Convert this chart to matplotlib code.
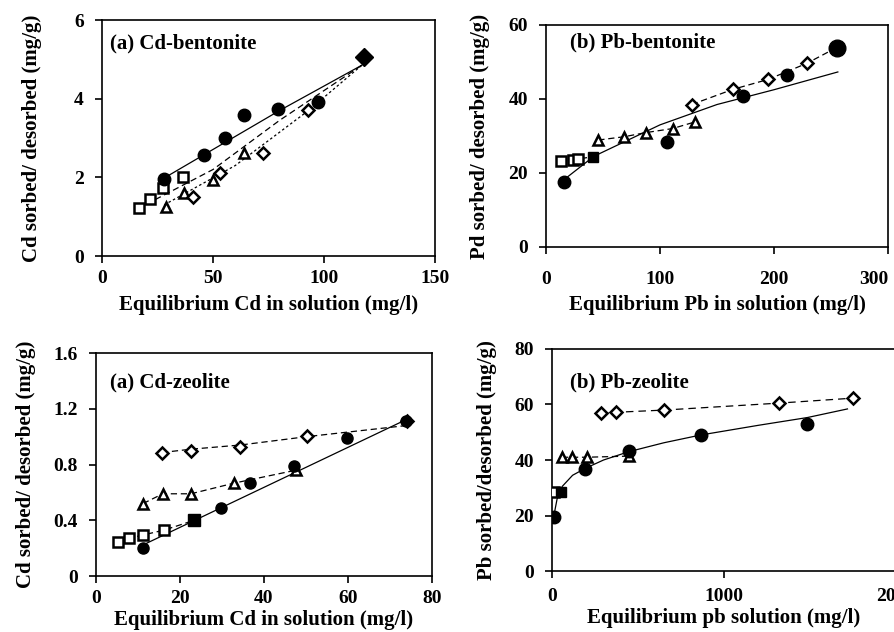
import matplotlib
matplotlib.use("Agg")
import matplotlib.pyplot as plt

plt.rcParams['font.family'] = ['Liberation Serif', 'DejaVu Serif']
plt.rcParams['font.weight'] = 'bold'

# ---- (a) Cd-bentonite ----
cdb_circ_x = [27.7, 46, 55.5, 63.8, 79.2, 97.5]
cdb_circ_y = [1.97, 2.57, 2.99, 3.58, 3.75, 3.92]
cdb_sq_x = [16.5, 21.5, 27.5, 36.5]
cdb_sq_y = [1.21, 1.44, 1.72, 2.02]
cdb_tri_x = [28.8, 37, 50.2, 63.8]
cdb_tri_y = [1.25, 1.59, 1.93, 2.61]
cdb_dia_x = [41.2, 53.2, 72.3, 93]
cdb_dia_y = [1.51, 2.10, 2.61, 3.71]
cdb_last_x = [117.8]
cdb_last_y = [5.07]
cdb_fit_x = [27, 80, 117]
cdb_fit_y = [1.95, 3.7, 4.85]
cdb_dash_x = [16, 50, 80, 117]
cdb_dash_y = [1.2, 2.2, 3.45, 4.85]
cdb_dot_x = [28, 60, 93, 117]
cdb_dot_y = [1.3, 2.3, 3.7, 4.85]

# ---- (b) Pb-bentonite ----
pbb_circ_x = [15.8, 105.8, 173, 211]
pbb_circ_y = [17.6, 28.4, 40.8, 46.5]
pbb_big_x = [255.6]
pbb_big_y = [53.9]
pbb_sq_x = [13.2, 23.4, 28.4]
pbb_sq_y = [23.2, 23.6, 23.8]
pbb_fsq_x = [41.5]
pbb_fsq_y = [24.4]
pbb_tri_x = [45.9, 68.7, 87.4, 111, 130.7]
pbb_tri_y = [28.9, 29.8, 30.9, 32.0, 33.8]
pbb_dia_x = [127.8, 164, 195, 228.6]
pbb_dia_y = [38.5, 42.6, 45.3, 49.6]
pbb_fit_x = [15, 42, 100, 150, 200, 256]
pbb_fit_y = [18, 24.5, 33, 38.5, 42.5, 47.3]
pbb_dia_line_x = [127.8, 164, 195, 228.6, 255.6]
pbb_dia_line_y = [38.5, 42.6, 45.3, 49.6, 54]

# ---- (a) Cd-zeolite ----
cdz_circ_x = [11.2, 29.8, 36.7, 47.2, 59.8, 73.7]
cdz_circ_y = [0.204, 0.49, 0.666, 0.79, 0.99, 1.11]
cdz_sq_x = [5.2, 7.8, 11.3, 16.3]
cdz_sq_y = [0.247, 0.27, 0.295, 0.33]
cdz_fsq_x = [23.4]
cdz_fsq_y = [0.40]
cdz_tri_x = [11.2, 15.9, 22.6, 32.8, 47.7]
cdz_tri_y = [0.52, 0.59, 0.59, 0.666, 0.76]
cdz_dia_x = [15.7, 22.6, 34.4, 50.2, 74]
cdz_dia_y = [0.886, 0.90, 0.925, 1.006, 1.11]
cdz_dia_line_y = [0.886, 0.91, 0.94, 1.0, 1.08]
cdz_fit_x = [11, 73.7]
cdz_fit_y = [0.22, 1.12]

# ---- (b) Pb-zeolite ----
pbz_circ_x = [9.7, 194, 447, 864, 1485]
pbz_circ_y = [19.5, 36.7, 43.4, 49, 53]
pbz_sq_x = [10]
pbz_sq_y = [28.6]
pbz_fsq_x = [54]
pbz_fsq_y = [28.6]
pbz_tri_x = [58, 117, 204, 447]
pbz_tri_y = [41, 41, 41, 41.4]
pbz_dia_x = [285, 375, 654, 1320, 1753]
pbz_dia_y = [56.9, 57.2, 58, 60.5, 62.3]
pbz_fit_x = [9.7, 30, 60, 120, 194, 300, 447, 650, 864, 1200, 1485, 1718]
pbz_fit_y = [19.5, 26, 30.5, 34.5, 37, 40, 43, 46.2, 49, 52.5, 55.3, 58.4]

fig = plt.figure(figsize=(8.94, 6.32), dpi=100)

ms = 7.5
mew = 1.8
lab = 15
tk = 14


def style(ax, xlim, ylim, xt, yt, xl, yl, title, tpos, xpad, xlpad, ylx):
    ax.set_xlim(*xlim)
    ax.set_ylim(*ylim)
    ax.set_xticks(xt)
    ax.set_yticks(yt)
    ax.tick_params(direction='out', length=5, width=1.2, labelsize=tk, top=False, right=False)
    ax.tick_params(axis='x', pad=xpad)
    ax.tick_params(axis='y', pad=8)
    for s in ax.spines.values():
        s.set_linewidth(1.2)
    ax.set_xlabel(xl, fontsize=lab, fontweight='bold', labelpad=xlpad)
    ax.set_ylabel(yl, fontsize=lab, fontweight='bold')
    ax.yaxis.set_label_coords(ylx, 0.5)
    ax.text(tpos[0], tpos[1], title, transform=ax.transAxes, fontsize=lab, fontweight='bold', va='center')
    for t in ax.get_xticklabels() + ax.get_yticklabels():
        t.set_fontweight('bold')


def open_m(ax, x, y, m, size=ms):
    ax.plot(x, y, linestyle='none', marker=m, ms=size, mfc='white', mec='black', mew=mew, zorder=3)


def fill_m(ax, x, y, m, size=ms):
    ax.plot(x, y, linestyle='none', marker=m, ms=size, mfc='black', mec='black', zorder=4)


# panel 1
ax1 = fig.add_axes([0.1141, 0.5949, 0.3725, 0.3734])
ax1.plot(cdb_fit_x, cdb_fit_y, color='black', lw=0.9)
ax1.plot(cdb_dash_x, cdb_dash_y, color='black', lw=0.9, ls=(0, (5, 3)))
ax1.plot(cdb_dot_x, cdb_dot_y, color='black', lw=0.9, ls=(0, (2, 2)))
open_m(ax1, cdb_sq_x, cdb_sq_y, 's')
open_m(ax1, cdb_tri_x, cdb_tri_y, '^')
open_m(ax1, cdb_dia_x, cdb_dia_y, 'D', 6.5)
fill_m(ax1, cdb_circ_x, cdb_circ_y, 'o', 9)
fill_m(ax1, cdb_last_x, cdb_last_y, 'D', 9)
style(ax1, (0, 150), (0, 6), [0, 50, 100, 150], [0, 2, 4, 6],
      'Equilibrium Cd in solution (mg/l)', 'Cd sorbed/ desorbed (mg/g)', '(a) Cd-bentonite',
      (0.024, 0.90), 5, 6, -0.18)

# panel 2
ax2 = fig.add_axes([0.6107, 0.6092, 0.3826, 0.3513])
ax2.plot(pbb_fit_x, pbb_fit_y, color='black', lw=0.9)
ax2.plot(pbb_sq_x + pbb_fsq_x, pbb_sq_y + pbb_fsq_y, color='black', lw=0.9, ls=(0, (5, 3)))
ax2.plot(pbb_tri_x, pbb_tri_y, color='black', lw=0.9, ls=(0, (5, 3)))
ax2.plot(pbb_dia_line_x, pbb_dia_line_y, color='black', lw=0.9, ls=(0, (5, 3)))
open_m(ax2, pbb_sq_x, pbb_sq_y, 's')
fill_m(ax2, pbb_fsq_x, pbb_fsq_y, 's')
open_m(ax2, pbb_tri_x, pbb_tri_y, '^')
open_m(ax2, pbb_dia_x, pbb_dia_y, 'D', 6.5)
fill_m(ax2, pbb_circ_x, pbb_circ_y, 'o', 9)
fill_m(ax2, pbb_big_x, pbb_big_y, 'o', 12)
style(ax2, (0, 300), (0, 60), [0, 100, 200, 300], [0, 20, 40, 60],
      'Equilibrium Pb in solution (mg/l)', 'Pd sorbed/ desorbed (mg/g)', '(b) Pb-bentonite',
      (0.07, 0.92), 12, 5, -0.164)
ax2.get_xticklabels()[-1].set_horizontalalignment('right')

# panel 3
ax3 = fig.add_axes([0.1074, 0.0886, 0.3758, 0.3528])
ax3.plot(cdz_fit_x, cdz_fit_y, color='black', lw=0.9)
ax3.plot(cdz_sq_x + cdz_fsq_x, cdz_sq_y + cdz_fsq_y, color='black', lw=0.9, ls=(0, (5, 3)))
ax3.plot(cdz_tri_x, cdz_tri_y, color='black', lw=0.9, ls=(0, (5, 3)))
ax3.plot(cdz_dia_x, cdz_dia_line_y, color='black', lw=0.9, ls=(0, (5, 3)))
open_m(ax3, cdz_sq_x, cdz_sq_y, 's')
fill_m(ax3, cdz_fsq_x, cdz_fsq_y, 's', 8)
open_m(ax3, cdz_tri_x, cdz_tri_y, '^')
open_m(ax3, cdz_dia_x, cdz_dia_y, 'D', 6.5)
fill_m(ax3, cdz_circ_x, cdz_circ_y, 'o', 8)
style(ax3, (0, 80), (0, 1.6), [0, 20, 40, 60, 80], [0, 0.4, 0.8, 1.2, 1.6],
      'Equilibrium Cd in solution (mg/l)', 'Cd sorbed/ desorbed (mg/g)', '(a) Cd-zeolite',
      (0.042, 0.87), 5, 2, -0.18)
ax3.set_yticklabels(['0', '0.4', '0.8', '1.2', '1.6'], fontweight='bold')

# panel 4
ax4 = fig.add_axes([0.6174, 0.0965, 0.3848, 0.3513])
ax4.plot(pbz_fit_x, pbz_fit_y, color='black', lw=0.9)
ax4.plot(pbz_tri_x, pbz_tri_y, color='black', lw=0.9, ls=(0, (5, 3)))
ax4.plot(pbz_dia_x, pbz_dia_y, color='black', lw=0.9, ls=(0, (6, 4)))
open_m(ax4, pbz_sq_x, pbz_sq_y, 's')
fill_m(ax4, pbz_fsq_x, pbz_fsq_y, 's')
open_m(ax4, pbz_tri_x, pbz_tri_y, '^')
open_m(ax4, pbz_dia_x, pbz_dia_y, 'D', 6.5)
fill_m(ax4, pbz_circ_x, pbz_circ_y, 'o', 9)
style(ax4, (0, 2000), (0, 80), [0, 1000, 2000], [0, 20, 40, 60, 80],
      'Equilibrium pb solution (mg/l)', 'Pb sorbed/desorbed (mg/g)', '(b) Pb-zeolite',
      (0.052, 0.85), 7, 2.5, -0.16)

fig.savefig('out.png', dpi=100)
